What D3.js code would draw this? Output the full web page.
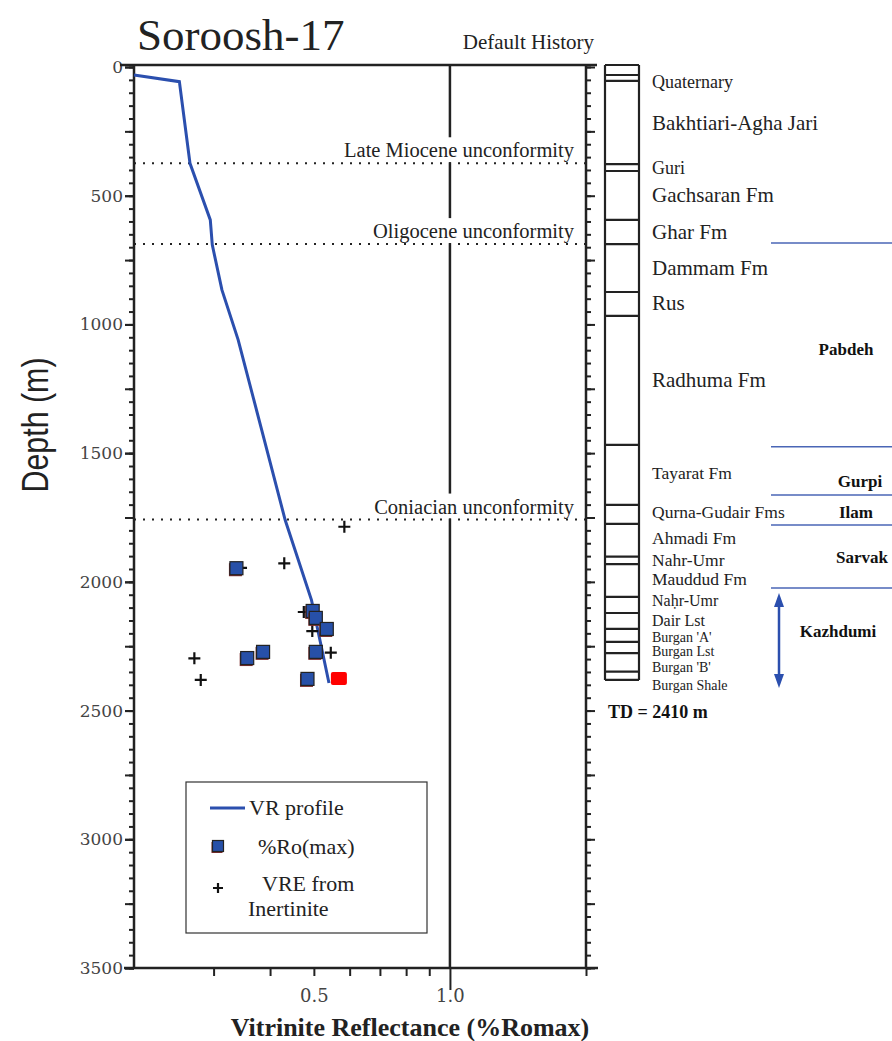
<!DOCTYPE html>
<html>
<head>
<meta charset="utf-8">
<script src="https://cdn.jsdelivr.net/npm/d3@7"></script>
<style>
  body { margin: 0; background: #fff; }
  text { font-family: "Liberation Serif", "Times New Roman", serif; }
</style>
</head>
<body>
<div id="chart"></div>
<script>
// ---- data ----
// VR profile (modelled curve)
const profileDepth = [31, 57, 374, 594, 691, 866, 1060, 1400, 1760, 2071, 2393];
const profileRo    = [0.200, 0.252, 0.266, 0.295, 0.298, 0.313, 0.340, 0.382, 0.432, 0.494, 0.540];

// measured %Ro(max)
const roDepth = [1947, 2296, 2272, 2113, 2140, 2183, 2272, 2377];
const roValue = [0.337, 0.356, 0.386, 0.497, 0.505, 0.534, 0.505, 0.484];
// highlighted sample (red)
const redDepth = [2375];
const redValue = [0.568];

// VRE from inertinite
const vreDepth = [1786, 1928, 1946, 2117, 2191, 2275, 2297, 2381];
const vreValue = [0.584, 0.430, 0.345, 0.475, 0.496, 0.545, 0.272, 0.281];

const unconfNames  = ["Late Miocene unconformity", "Oligocene unconformity", "Coniacian unconformity"];
const unconfDepths = [374, 688, 1758];

// stratigraphic column
const columnBreaks = [0, 31, 54, 377, 404, 594, 688, 874, 967, 1468, 1701, 1775, 1902, 1931, 2058, 2121, 2183, 2233, 2277, 2349, 2381];
const formationNames = ["Quaternary", "Bakhtiari-Agha Jari", "Guri", "Gachsaran Fm", "Ghar Fm", "Dammam Fm", "Rus", "Radhuma Fm",
  "Tayarat Fm", "Qurna-Gudair Fms", "Ahmadi Fm", "Nahr-Umr", "Mauddud Fm", "Na\u1e25r-Umr", "Dair Lst",
  "Burgan 'A'", "Burgan Lst", "Burgan 'B'", "Burgan Shale"];
const formationDepths = [82, 245, 416, 524, 668, 808, 944, 1243, 1600, 1752, 1853, 1938, 2012, 2094, 2170, 2234, 2288, 2350, 2420];

const groupNames  = ["Pabdeh", "Gurpi", "Ilam", "Sarvak", "Kazhdumi"];
const groupDepths = [1119, 1632, 1752, 1927, 2214];
const groupBreaks = [684, 1475, 1663, 1779, 2024];
const kazhdumiRange = [2043, 2412];
const tdLabel = "TD = 2410 m";

const xTicks  = [0.3, 0.4, 0.5, 0.6, 0.7, 0.8, 0.9, 1.0, 2.0];
const xLabels = [0.5, 1.0];

// ---- layout ----
const W = 892, H = 1041;
const groupX = [846, 860, 856, 862, 838];
const blue = "#2b4fae";

const x = d3.scaleLog().domain([0.2, 2.0]).range([134, 586]);
const y = d3.scaleLinear().domain([0, 3500]).range([67, 968]);

const svg = d3.select("#chart").append("svg")
  .attr("width", W).attr("height", H)
  .style("background", "#fff");

// titles
svg.append("text").attr("x", 137).attr("y", 50)
  .style("font-size", "45px").attr("fill", "#222").text("Soroosh-17");
svg.append("text").attr("x", 594).attr("y", 49).attr("text-anchor", "end")
  .style("font-size", "21px").attr("fill", "#222").text("Default History");

// depth axis label (condensed sans)
svg.append("text")
  .attr("transform", "translate(48,425) rotate(-90)")
  .attr("text-anchor", "middle")
  .attr("textLength", 135).attr("lengthAdjust", "spacingAndGlyphs")
  .style("font-family", "'Liberation Sans', sans-serif")
  .style("font-size", "36px").attr("fill", "#222")
  .text("Depth (m)");

// x axis title
svg.append("text").attr("x", 410).attr("y", 1036).attr("text-anchor", "middle")
  .style("font-size", "26px").style("font-weight", "bold").attr("fill", "#222")
  .text("Vitrinite Reflectance (%Romax)");

const [x0, x1] = x.range();
const [y0, y1] = y.range();

// depth ticks on both sides
function depthTicks(axisFn, tx) {
  const g = svg.append("g").attr("transform", `translate(${tx},0)`);
  g.append("g").call(axisFn(y).tickValues(d3.range(0, 3501, 50)).tickSize(5).tickSizeOuter(0).tickFormat(""));
  g.append("g").call(axisFn(y).tickValues(d3.range(0, 3501, 250)).tickSize(9).tickSizeOuter(0).tickFormat(""));
  g.selectAll(".domain").remove();
  g.selectAll("line").attr("stroke", "#222").attr("stroke-width", 2);
  return g;
}
depthTicks(d3.axisLeft, x0);
depthTicks(d3.axisRight, x1);

const yLab = svg.append("g").attr("transform", `translate(${x0},0)`)
  .call(d3.axisLeft(y).tickValues(d3.range(0, 3501, 500)).tickSize(9).tickPadding(2).tickSizeOuter(0)
    .tickFormat(d3.format("d")));
yLab.select(".domain").remove();
yLab.selectAll("line").attr("stroke", "#222").attr("stroke-width", 2);
yLab.selectAll("text").style("font-family", "'DejaVu Serif', serif").style("font-size", "17px").attr("fill", "#444");

// bottom axis
const xAx = svg.append("g").attr("transform", `translate(0,${y1})`)
  .call(d3.axisBottom(x).tickValues(xTicks).tickSize(8).tickPadding(13).tickSizeOuter(0)
    .tickFormat(d => xLabels.includes(d) ? d3.format(".1f")(d) : ""));
xAx.select(".domain").remove();
xAx.selectAll("line").attr("stroke", "#222").attr("stroke-width", 2);
xAx.selectAll(".tick").filter(d => d === 1.0).select("line").attr("y2", 22);
xAx.selectAll("text").style("font-family", "'DejaVu Serif', serif").style("font-size", "18px").attr("fill", "#444");

// frame
const frame = svg.append("g").attr("stroke", "#222").attr("stroke-width", 2.5);
frame.append("line").attr("x1", x0 - 14).attr("x2", x1 + 11).attr("y1", y0 - 2).attr("y2", y0 - 2);
frame.append("line").attr("x1", x0 - 10).attr("x2", x1 + 12).attr("y1", y1).attr("y2", y1);
frame.append("line").attr("x1", x0).attr("x2", x0).attr("y1", y0 - 2).attr("y2", y1);
frame.append("line").attr("x1", x1).attr("x2", x1).attr("y1", y0 - 2).attr("y2", y1);
// 1.0 reference line
frame.append("line").attr("x1", x(1)).attr("x2", x(1)).attr("y1", y0 - 2).attr("y2", y1);

// unconformities
unconfNames.forEach((name, i) => {
  const yy = y(unconfDepths[i]);
  const t = svg.append("text").attr("x", x1 - 12).attr("y", yy - 6).attr("text-anchor", "end")
    .style("font-size", "20.5px").attr("fill", "#222").text(name);
  const bb = t.node().getBBox();
  svg.insert("rect", () => t.node())
    .attr("x", bb.x - 3).attr("y", bb.y - 2).attr("width", bb.width + 6).attr("height", yy - bb.y + 1)
    .attr("fill", "#fff");
  svg.append("line").attr("x1", x0).attr("x2", x1).attr("y1", yy).attr("y2", yy)
    .attr("stroke", "#222").attr("stroke-width", 2).attr("stroke-dasharray", "2,7");
});

// VR profile
const line = d3.line().x(d => x(d[0])).y(d => y(d[1]));
svg.append("path")
  .datum(profileRo.map((v, i) => [v, profileDepth[i]]))
  .attr("d", line).attr("fill", "none").attr("stroke", blue).attr("stroke-width", 3);

// crosses
function cross(g, cx, cy, s) {
  g.append("path").attr("d", `M${cx - s},${cy}H${cx + s}M${cx},${cy - s}V${cy + s}`)
    .attr("stroke", "#111").attr("stroke-width", 2.2).attr("fill", "none");
}
const crossG = svg.append("g");
vreValue.forEach((v, i) => cross(crossG, x(v), y(vreDepth[i]), 6));

// squares
function square(g, cx, cy, s) {
  g.append("rect").attr("x", cx - s / 2 - 1).attr("y", cy - s / 2 + 1.5).attr("width", s).attr("height", s)
    .attr("fill", "#7a2c2c");
  g.append("rect").attr("x", cx - s / 2).attr("y", cy - s / 2).attr("width", s).attr("height", s)
    .attr("fill", "#2750a8").attr("stroke", "#222").attr("stroke-width", 1.2);
}
const sqG = svg.append("g");
roValue.forEach((v, i) => square(sqG, x(v), y(roDepth[i]), 13));
redValue.forEach((v, i) => {
  sqG.append("rect").attr("x", x(v) - 8).attr("y", y(redDepth[i]) - 6.5).attr("width", 16).attr("height", 13)
    .attr("rx", 2).attr("fill", "#ff0000");
});

// legend
const lg = svg.append("g");
lg.append("rect").attr("x", 186).attr("y", 782).attr("width", 241).attr("height", 151)
  .attr("fill", "#fff").attr("stroke", "#333").attr("stroke-width", 1.2);
lg.append("line").attr("x1", 210).attr("x2", 245).attr("y1", 808).attr("y2", 808)
  .attr("stroke", blue).attr("stroke-width", 3);
lg.append("text").attr("x", 249).attr("y", 815).style("font-size", "22px").attr("fill", "#222").text("VR profile");
square(lg, 218, 846, 11);
lg.append("text").attr("x", 258).attr("y", 854).style("font-size", "22px").attr("fill", "#222").text("%Ro(max)");
cross(lg, 218, 888, 5);
lg.append("text").attr("x", 262).attr("y", 891).style("font-size", "22px").attr("fill", "#222").text("VRE from");
lg.append("text").attr("x", 248).attr("y", 916).style("font-size", "22px").attr("fill", "#222").text("Inertinite");

// stratigraphic column
const colL = 605, colR = 639;
const col = svg.append("g").attr("stroke", "#222").attr("stroke-width", 2.2);
const colTop = y(columnBreaks[0]) - 2, colBot = y(columnBreaks[columnBreaks.length - 1]);
col.append("line").attr("x1", colL).attr("x2", colL).attr("y1", colTop).attr("y2", colBot);
col.append("line").attr("x1", colR).attr("x2", colR).attr("y1", colTop).attr("y2", colBot);
col.selectAll("line.brk").data(columnBreaks).enter().append("line").attr("class", "brk")
  .attr("x1", colL).attr("x2", colR)
  .attr("y1", (d, i) => i === 0 ? colTop : y(d)).attr("y2", (d, i) => i === 0 ? colTop : y(d));

const fSize = i => (i === 0 || i === 2) ? 18 : i < 8 ? 21 : i < 13 ? 17.5 : i < 15 ? 16 : 14;
svg.append("g").selectAll("text").data(formationNames).enter().append("text")
  .attr("x", 652).attr("y", (d, i) => y(formationDepths[i]))
  .style("font-size", (d, i) => fSize(i) + "px").attr("fill", "#222").text(d => d);

svg.append("text").attr("x", 608).attr("y", y(2500) + 7)
  .style("font-size", "18px").style("font-weight", "bold").attr("fill", "#111").text(tdLabel);

// group boundaries and labels
svg.append("g").selectAll("line").data(groupBreaks).enter().append("line")
  .attr("x1", 771).attr("x2", W).attr("y1", d => y(d)).attr("y2", d => y(d))
  .attr("stroke", "#4a66b6").attr("stroke-width", 1.5);
svg.append("g").selectAll("text").data(groupNames).enter().append("text")
  .attr("x", (d, i) => groupX[i]).attr("y", (d, i) => y(groupDepths[i])).attr("text-anchor", "middle")
  .style("font-size", "17px").style("font-weight", "bold").attr("fill", "#111").text(d => d);

// Kazhdumi arrow
const ax = 779, ya = y(kazhdumiRange[0]), yb = y(kazhdumiRange[1]);
svg.append("line").attr("x1", ax).attr("x2", ax).attr("y1", ya + 10).attr("y2", yb - 10)
  .attr("stroke", blue).attr("stroke-width", 2.5);
svg.append("path").attr("d", `M${ax},${ya}L${ax - 5},${ya + 14}L${ax + 5},${ya + 14}Z`).attr("fill", blue);
svg.append("path").attr("d", `M${ax},${yb}L${ax - 5},${yb - 14}L${ax + 5},${yb - 14}Z`).attr("fill", blue);
</script>
</body>
</html>
